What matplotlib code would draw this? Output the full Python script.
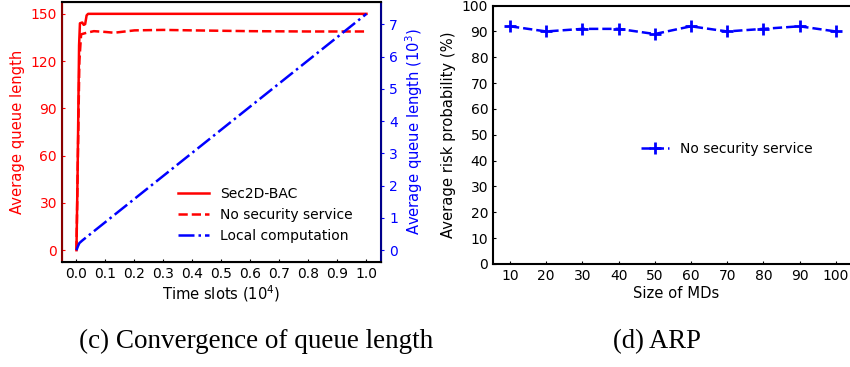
import numpy as np
import matplotlib
matplotlib.use("Agg")
import matplotlib.pyplot as plt

plt.rcParams['font.family'] = 'DejaVu Sans'
plt.rcParams['font.size'] = 10
plt.rcParams['axes.labelsize'] = 10.6

# (c) convergence of queue length, time in 10^4 slots
t_sec = [0.0, 0.004, 0.009, 0.012, 0.02, 0.025, 0.03, 0.035, 0.04, 0.1, 1.0]
q_sec = [0.0, 50.0, 130.0, 144.0, 144.5, 143.0, 143.5, 149.0, 150.0, 150.0, 150.0]

t_nos = [0.0, 0.005, 0.01, 0.016, 0.035, 0.06, 0.1, 0.13, 0.2, 0.3, 0.4, 0.6, 0.8, 1.0]
q_nos = [0.0, 60.0, 120.0, 137.0, 138.0, 139.0, 138.5, 138.0, 139.5, 139.8, 139.5, 139.0, 138.8, 138.8]

t_loc = [0.0, 0.005, 0.01, 0.02, 1.0]
q_loc = [0.0, 0.12, 0.22, 0.30, 7.33]   # 10^3

# (d) ARP
md_size = [10, 20, 30, 40, 50, 60, 70, 80, 90, 100]
arp_nos = [92, 90, 91, 91, 89, 92, 90, 91, 92, 90]

fig = plt.figure(figsize=(8.5, 3.67), dpi=100)

ax = fig.add_axes([0.0729, 0.2861, 0.3753, 0.7084])
ax.plot(t_sec, q_sec, "-", color="red", lw=1.8, label="Sec2D-BAC")
ax.plot(t_nos, q_nos, "--", color="red", lw=1.8, label="No security service")
ax2 = ax.twinx()
ax2.plot(t_loc, q_loc, "-.", color="blue", lw=1.8, label="Local computation")

ax.set_yticks([0, 30, 60, 90, 120, 150])
ax.set_xticks(np.round(np.arange(0, 1.01, 0.1), 1))
ax.set_ylabel("Average queue length", color="red")
ax.set_xlabel("Time slots ($10^4$)", labelpad=2)
ax2.set_ylabel("Average queue length ($10^3$)", color="blue")
ax.tick_params(axis="y", colors="red", direction="in", length=2.5)
ax.tick_params(axis="x", direction="in", length=2.5)
ax2.tick_params(axis="y", colors="blue", direction="out", length=2.5)
ax2.set_yticks(range(0, 8))
for s in ax2.spines.values():
    s.set_linewidth(1.5)
ax2.spines["left"].set_color("darkred")
ax2.spines["right"].set_color("darkblue")

h1, l1 = ax.get_legend_handles_labels()
h2, l2 = ax2.get_legend_handles_labels()
ax2.legend(h1 + h2, l1 + l2, loc="lower right", frameon=False,
           bbox_to_anchor=(0.95, 0.025), labelspacing=0.5, handlelength=2.2)

bx = fig.add_axes([0.58, 0.2807, 0.43, 0.704])
bx.plot(md_size, arp_nos, "--", color="blue", lw=1.8, marker="+", ms=8, mew=2,
        label="No security service")
bx.set_ylim(0, 100)
bx.set_xlim(5.3, 106.3)
bx.set_yticks(range(0, 101, 10))
bx.set_xticks(md_size)
bx.set_xlabel("Size of MDs", labelpad=2)
bx.set_ylabel("Average risk probability (%)")
bx.tick_params(direction="in", length=2.5)
for s in bx.spines.values():
    s.set_linewidth(1.5)
bx.legend(loc="center", bbox_to_anchor=(0.64, 0.446), frameon=False)

fig.text(0.301, 0.052, "(c) Convergence of queue length", family="Liberation Serif",
         fontsize=19.5, ha="center", va="baseline")
fig.text(0.773, 0.052, "(d) ARP", family="Liberation Serif", fontsize=19.2,
         ha="center", va="baseline")

fig.savefig("out.png", dpi=100)
